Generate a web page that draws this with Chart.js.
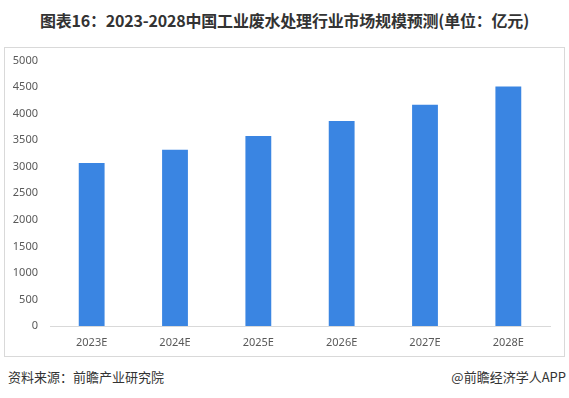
<!DOCTYPE html>
<html>
<head>
<meta charset="utf-8">
<script src="https://cdn.jsdelivr.net/npm/chart.js@4.4.0/dist/chart.umd.min.js"></script>
<style>
    body { margin: 0; width: 569px; height: 398px; background: #fff; position: relative; overflow: hidden;
           font-family: "Noto Sans CJK SC", "Noto Sans", sans-serif; }
    #title { position: absolute; left: 0; top: 8px; width: 569px; text-align: center;
             font-size: 16px; font-weight: bold; color: #333; letter-spacing: -0.2px; }
    #box { position: absolute; left: 4px; top: 47px; width: 559px; height: 308px; border: 1px solid #d9d9d9; }
    #box canvas { display: block; margin-top: -6px; }
    #source { position: absolute; left: 8px; top: 367px; font-size: 13px; color: #333; }
    #brand { position: absolute; right: 3px; top: 367px; font-size: 13px; color: #333; }
</style>
</head>
<body>
<div id="title">图表16：2023-2028中国工业废水处理行业市场规模预测(单位：亿元)</div>
<div id="box"><canvas id="myChart" width="559" height="315"></canvas></div>
<div id="source">资料来源：前瞻产业研究院</div>
<div id="brand">@前瞻经济学人APP</div>
<script>
const years = ["2023E", "2024E", "2025E", "2026E", "2027E", "2028E"];
const marketSize = [3070, 3320, 3580, 3860, 4170, 4510];
const yTicks = [0, 500, 1000, 1500, 2000, 2500, 3000, 3500, 4000, 4500, 5000];

const ctx = document.getElementById("myChart").getContext("2d");
const chart = new Chart(ctx, {
    type: "bar",
    data: {
        labels: years,
        datasets: [{
            label: "市场规模",
            data: marketSize,
            backgroundColor: "#3a85e2",
            barPercentage: 0.31,
            categoryPercentage: 1
        }]
    },
    options: {
        responsive: false,
        animation: false,
        devicePixelRatio: 1,
        layout: { autoPadding: false, padding: { top: 1, right: 14, left: 0, bottom: 0 } },
        plugins: {
            legend: { display: false },
            tooltip: { enabled: false }
        },
        scales: {
            x: {
                grid: { display: false, drawTicks: false },
                border: { display: true, color: "#d9d9d9" },
                ticks: { color: "#595959", font: { size: 11, family: "Noto Sans" }, padding: 10 },
                afterFit: s => { s.height = 31; }
            },
            y: {
                min: 0,
                max: 5000,
                grid: { display: false, drawTicks: false },
                border: { display: false },
                afterBuildTicks: s => { s.ticks = yTicks.map(v => ({ value: v })); },
                ticks: {
                    color: "#595959",
                    font: { size: 11, family: "Noto Sans" },
                    padding: 12,
                    autoSkip: false,
                    callback: v => String(v)
                },
                afterFit: s => { s.width = 45; }
            }
        }
    }
});
</script>
</body>
</html>
